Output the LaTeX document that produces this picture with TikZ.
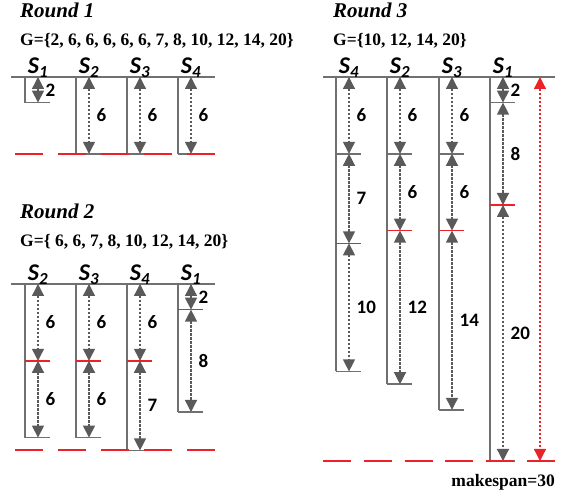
\documentclass[tikz,border=0pt]{standalone}
\usepackage{fontspec}
\setmainfont{Liberation Serif}
\newfontfamily\carlito{Carlito}
\usepackage{tikz}
\usetikzlibrary{positioning}
\usetikzlibrary{arrows.meta}

\definecolor{linegray}{RGB}{112,112,112}
\definecolor{arrowgray}{RGB}{90,90,90}
\definecolor{idlered}{RGB}{235,35,40}

\tikzset{
  slotline/.style={linegray, line width=1.6pt},
  grayend/.style={linegray, line width=1.6pt},
  redend/.style={idlered, line width=1.6pt},
  span/.style={<->, arrowgray, line width=1.3pt, dash pattern=on 2.4pt off 1.6pt},
  durlabel/.style={right=6pt, inner sep=1pt, text=black,
    font=\carlito\bfseries\fontsize{19}{19}\selectfont},
  mlabel/.style={anchor=base, inner sep=0pt,
    font=\carlito\bfseries\itshape\fontsize{24}{24}\selectfont},
  roundtitle/.style={anchor=base west, inner sep=0pt,
    font=\bfseries\itshape\fontsize{21}{21}\selectfont},
  jobset/.style={anchor=base west, inner sep=0pt,
    font=\bfseries\fontsize{17.5}{17.5}\selectfont},
  idle/.style={idlered, line width=1.6pt, dash pattern=on 28pt off 15pt},
  makespanarrow/.style={<->, idlered, line width=1.3pt, dash pattern=on 2.4pt off 1.6pt},
}

% one machine: label and time line
\newcommand{\machine}[3]{%
  \node[mlabel] (#1) at (13,-0.25) {S\textsubscript{#2}};
  \draw[slotline] (0,0) -- (0,#3);
}
% one job on a machine: from, to, label, end mark
\newcommand{\seg}[5]{%
  \coordinate (#1 top) at (13,#2);
  \coordinate (#1 bot) at (13,#3);
  \draw[span] (#1 top) -- node[durlabel] {#4} (#1 bot);
  \draw[#5] (0,#3) -- (25,#3);
}

\begin{document}
\begin{tikzpicture}[x=1pt,y=-1pt,>={Triangle[width=12pt,length=12pt]}]
\useasboundingbox (0,0) rectangle (566,494);

% Round 1
\node[roundtitle] (title1) at (20,18) {Round 1};
\node[jobset] (set1) at (20,46) {G=\{2, 6, 6, 6, 6, 6, 7, 8, 10, 12, 14, 20\}};
\draw[slotline] (11,77) -- (215,77);
\begin{scope}[shift={(25,77)}, y=-12.8pt]
  \machine{r1s1}{1}{2}
  \seg{r1s1a}{0}{2}{2}{grayend}
\end{scope}
\begin{scope}[shift={(76,77)}, y=-12.8pt]
  \machine{r1s2}{2}{6}
  \seg{r1s2a}{0}{6}{6}{grayend}
\end{scope}
\begin{scope}[shift={(127,77)}, y=-12.8pt]
  \machine{r1s3}{3}{6}
  \seg{r1s3a}{0}{6}{6}{grayend}
\end{scope}
\begin{scope}[shift={(178,77)}, y=-12.8pt]
  \machine{r1s4}{4}{6}
  \seg{r1s4a}{0}{6}{6}{grayend}
\end{scope}
\draw[idle] (15,154) -- (217,154);

% Round 2
\node[roundtitle] (title2) at (20,219) {Round 2};
\node[jobset] (set2) at (20,247) {G=\{ 6, 6, 7, 8, 10, 12, 14, 20\}};
\draw[slotline] (11,284) -- (215,284);
\begin{scope}[shift={(25,284)}, y=-12.8pt]
  \machine{r2s2}{2}{12}
  \seg{r2s2a}{0}{6}{6}{redend}
  \seg{r2s2b}{6}{12}{6}{grayend}
\end{scope}
\begin{scope}[shift={(76,284)}, y=-12.8pt]
  \machine{r2s3}{3}{12}
  \seg{r2s3a}{0}{6}{6}{redend}
  \seg{r2s3b}{6}{12}{6}{grayend}
\end{scope}
\begin{scope}[shift={(127,284)}, y=-12.8pt]
  \machine{r2s4}{4}{13}
  \seg{r2s4a}{0}{6}{6}{redend}
  \seg{r2s4b}{6}{13}{7}{grayend}
\end{scope}
\begin{scope}[shift={(178,284)}, y=-12.8pt]
  \machine{r2s1}{1}{10}
  \seg{r2s1a}{0}{2}{2}{redend}
  \seg{r2s1b}{2}{10}{8}{grayend}
\end{scope}
\draw[idle] (15,450) -- (217,450);

% Round 3
\node[roundtitle] (title3) at (333,18) {Round 3};
\node[jobset] (set3) at (333,46) {G=\{10, 12, 14, 20\}};
\draw[slotline] (323,77) -- (555,77);
\begin{scope}[shift={(336,77)}, y=-12.8pt]
  \machine{r3s4}{4}{23}
  \seg{r3s4a}{0}{6}{6}{grayend}
  \seg{r3s4b}{6}{13}{7}{redend}
  \seg{r3s4c}{13}{23}{10}{grayend}
\end{scope}
\begin{scope}[shift={(387,77)}, y=-12.8pt]
  \machine{r3s2}{2}{24}
  \seg{r3s2a}{0}{6}{6}{grayend}
  \seg{r3s2b}{6}{12}{6}{redend}
  \seg{r3s2c}{12}{24}{12}{grayend}
\end{scope}
\begin{scope}[shift={(439,77)}, y=-12.8pt]
  \machine{r3s3}{3}{26}
  \seg{r3s3a}{0}{6}{6}{grayend}
  \seg{r3s3b}{6}{12}{6}{redend}
  \seg{r3s3c}{12}{26}{14}{grayend}
\end{scope}
\begin{scope}[shift={(490,77)}, y=-12.8pt]
  \machine{r3s1}{1}{30}
  \seg{r3s1a}{0}{2}{2}{grayend}
  \seg{r3s1b}{2}{10}{8}{redend}
  \seg{r3s1c}{10}{30}{20}{grayend}
\end{scope}
\draw[idle, dash pattern=on 28pt off 12.8pt] (323,461) -- (555,461);
\coordinate (mk top) at (540,77);
\coordinate (mk bot) at (540,461);
\draw[makespanarrow] (mk top) -- (mk bot);
\node[jobset, anchor=base east] (makespan) at (555,487) {makespan=30};
\end{tikzpicture}
\end{document}
